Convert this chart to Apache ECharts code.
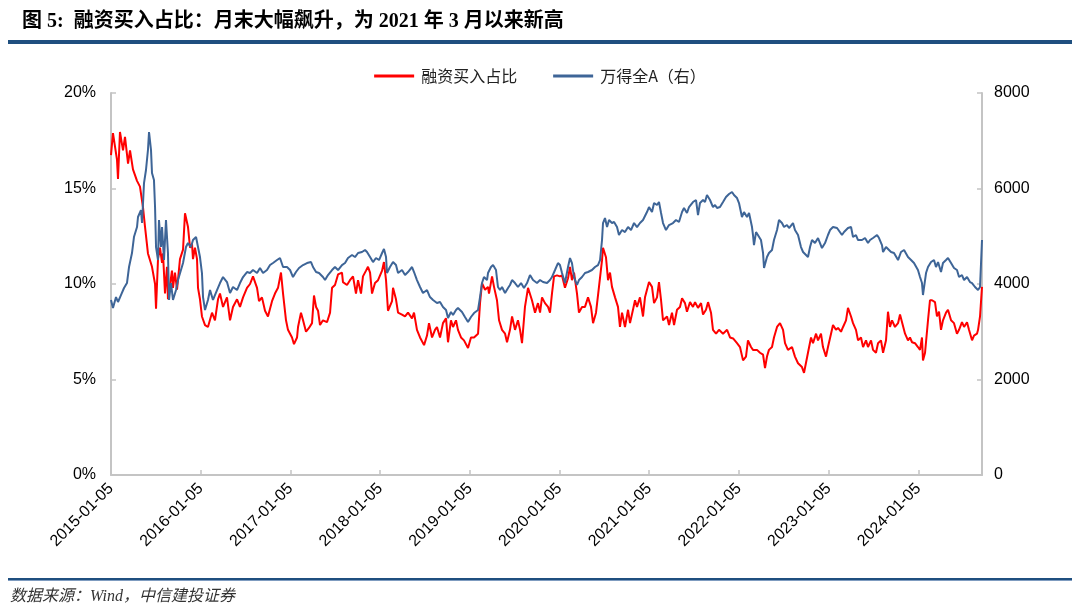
<!DOCTYPE html>
<html>
<head>
<meta charset="utf-8">
<script src="https://cdn.jsdelivr.net/npm/echarts@6/dist/echarts.min.js"></script>
<style>
html,body{margin:0;padding:0;background:#fff;}
#chart{width:1080px;height:613px;}
</style>
</head>
<body>
<div id="chart"></div>
<script>
// x values are decimal years (trading-calendar position)
const redX = [2015.000,2015.022,2015.067,2015.078,2015.100,2015.134,2015.156,2015.190,2015.212,2015.245,2015.290,2015.323,2015.357,2015.379,2015.412,2015.457,2015.491,2015.502,2015.524,2015.546,2015.569,2015.580,2015.602,2015.624,2015.635,2015.680,2015.691,2015.713,2015.736,2015.769,2015.803,2015.825,2015.858,2015.881,2015.903,2015.914,2015.936,2015.959,2015.970,2015.992,
2016.014,2016.048,2016.081,2016.126,2016.159,2016.193,2016.215,2016.249,2016.293,2016.327,2016.360,2016.405,2016.438,2016.472,2016.516,2016.550,2016.583,2016.628,2016.650,2016.683,2016.717,2016.750,2016.795,2016.828,2016.862,2016.895,2016.918,2016.951,2016.973,
2017.018,2017.040,2017.074,2017.085,2017.118,2017.141,2017.174,2017.207,2017.241,2017.263,2017.286,2017.308,2017.330,2017.363,2017.408,2017.442,2017.464,2017.497,2017.531,2017.575,2017.586,2017.631,2017.664,2017.698,2017.731,2017.754,2017.787,2017.809,2017.843,2017.865,2017.888,2017.910,2017.943,2017.977,
2018.022,2018.043,2018.066,2018.088,2018.133,2018.144,2018.177,2018.200,2018.244,2018.278,2018.311,2018.356,2018.378,2018.411,2018.445,2018.490,2018.523,2018.545,2018.579,2018.612,2018.634,2018.668,2018.701,2018.735,2018.757,2018.790,2018.813,2018.846,2018.868,2018.902,2018.935,2018.980,
2019.013,2019.047,2019.092,2019.114,2019.136,2019.170,2019.203,2019.214,2019.248,2019.270,2019.303,2019.326,2019.359,2019.393,2019.415,2019.448,2019.471,2019.504,2019.537,2019.560,2019.582,2019.615,2019.649,2019.671,2019.693,2019.727,2019.760,2019.783,2019.805,2019.838,2019.872,2019.894,2019.916,2019.939,2019.972,
2020.005,2020.028,2020.061,2020.095,2020.117,2020.139,2020.162,2020.195,2020.217,2020.251,2020.284,2020.318,2020.351,2020.374,2020.407,2020.440,2020.474,2020.485,2020.518,2020.541,2020.563,2020.585,2020.619,2020.652,2020.674,2020.697,2020.730,2020.764,2020.786,2020.819,2020.842,2020.864,2020.897,2020.931,2020.953,2020.975,2020.998,
2021.031,2021.054,2021.087,2021.109,2021.132,2021.154,2021.199,2021.221,2021.254,2021.277,2021.310,2021.343,2021.366,2021.399,2021.421,2021.455,2021.488,2021.511,2021.544,2021.578,2021.600,2021.633,2021.656,2021.689,2021.711,2021.745,2021.778,2021.823,2021.868,2021.901,2021.935,2021.979,
2022.012,2022.046,2022.079,2022.101,2022.135,2022.157,2022.202,2022.235,2022.269,2022.291,2022.313,2022.335,2022.369,2022.391,2022.425,2022.458,2022.492,2022.514,2022.547,2022.592,2022.625,2022.659,2022.703,2022.726,2022.770,2022.804,2022.826,2022.860,2022.882,2022.915,2022.937,2022.971,2022.993,
2023.027,2023.049,2023.082,2023.105,2023.138,2023.161,2023.194,2023.216,2023.250,2023.272,2023.305,2023.328,2023.361,2023.384,2023.417,2023.439,2023.473,2023.495,2023.528,2023.551,2023.584,2023.607,2023.640,2023.662,2023.684,2023.707,2023.740,2023.774,2023.796,2023.818,2023.852,2023.885,2023.907,2023.930,2023.963,2023.996,
2024.019,2024.041,2024.052,2024.075,2024.108,2024.130,2024.153,2024.186,2024.208,2024.231,2024.253,2024.275,2024.309,2024.331,2024.365,2024.398,2024.431,2024.454,2024.487,2024.510,2024.543,2024.565,2024.599,2024.621,2024.654,2024.666,2024.688,2024.710];

const redValues = [16.75,17.9,16.5,15.5,17.96,17.0,17.7,16.3,17.0,16.0,15.4,15.1,14.0,13.0,11.6,10.9,10.0,8.7,11.3,11.9,11.1,11.6,9.5,10.9,9.2,10.7,9.8,10.6,9.7,11.3,11.8,13.7,13.0,11.9,12.1,11.3,11.9,11.3,9.8,9.2,
8.3,7.85,7.75,8.5,8.1,9.2,9.5,8.8,9.3,8.1,8.8,9.2,8.8,9.3,9.8,10.0,10.4,9.8,9.1,9.3,8.6,8.3,9.1,9.5,9.8,10.6,9.5,8.1,7.6,
7.2,6.85,7.2,7.75,8.5,8.1,7.5,7.7,7.95,9.4,8.8,8.6,7.85,8.1,8.0,8.5,9.8,9.95,10.5,10.6,10.1,9.95,10.2,10.4,9.5,10.2,9.5,10.4,10.7,10.9,10.6,9.5,10.05,10.2,
10.7,11.15,10.2,8.6,9.1,9.8,9.2,8.5,8.4,8.3,8.5,8.2,8.5,7.6,7.2,6.8,7.3,7.95,7.2,7.6,7.75,7.2,7.95,8.2,6.95,8.1,7.75,8.1,7.6,7.2,7.05,6.65,
7.2,7.2,7.4,9.0,10.05,9.7,9.85,9.5,10.4,9.85,9.15,8.1,7.6,7.4,6.95,7.6,8.3,7.6,8.1,7.6,6.9,8.8,9.8,9.85,9.15,8.5,9.0,8.5,9.3,9.0,8.8,8.5,9.5,10.4,10.45,
10.4,10.45,9.8,10.3,10.9,10.2,10.6,9.5,8.5,8.8,8.8,9.3,8.8,7.95,8.5,9.85,11.25,11.9,11.4,10.2,10.6,9.85,9.3,8.8,7.75,8.5,7.75,8.65,7.95,8.65,9.15,8.8,9.3,8.3,9.3,9.7,10.1,
9.85,9.0,9.3,10.1,9.15,8.1,8.3,7.85,8.5,7.85,8.65,8.8,9.25,9.0,8.55,9.05,8.8,9.05,8.75,9.0,8.4,8.65,9.05,8.5,7.6,7.4,7.6,7.4,7.6,7.2,7.15,6.9,
6.7,6.0,6.2,7.05,6.7,6.55,6.55,6.4,6.3,5.6,6.2,6.55,6.7,7.2,7.75,7.95,7.6,6.9,6.55,6.7,6.2,5.85,5.65,5.35,6.4,7.2,6.9,7.4,7.05,7.4,6.7,6.2,6.7,
7.4,7.85,7.6,7.7,7.5,7.75,8.1,8.75,8.3,7.95,7.6,7.05,7.2,6.7,7.05,6.7,7.05,6.55,6.4,6.9,7.05,6.4,7.05,8.55,7.75,8.1,7.75,7.95,8.4,8.5,7.4,7.05,7.2,6.95,6.9,6.7,
6.55,7.2,6.0,6.4,8.1,9.15,9.15,9.05,8.3,8.55,7.6,8.1,8.5,8.65,8.1,7.95,7.4,7.6,8.0,7.75,8.0,7.6,7.05,7.3,7.4,7.6,8.3,9.85];

const blueX = [2015.000,2015.022,2015.056,2015.078,2015.111,2015.145,2015.178,2015.201,2015.234,2015.256,2015.290,2015.301,2015.334,2015.346,2015.368,2015.390,2015.412,2015.424,2015.446,2015.457,2015.479,2015.491,2015.502,2015.524,2015.535,2015.557,2015.569,2015.591,2015.613,2015.635,2015.647,2015.669,2015.691,2015.725,2015.747,2015.780,2015.803,2015.836,2015.858,2015.892,2015.914,2015.948,2015.970,2015.992,
2016.014,2016.026,2016.048,2016.081,2016.104,2016.137,2016.182,2016.215,2016.249,2016.293,2016.327,2016.360,2016.405,2016.438,2016.472,2016.516,2016.550,2016.583,2016.628,2016.661,2016.695,2016.739,2016.773,2016.806,2016.851,2016.884,2016.918,2016.962,2016.996,
2017.029,2017.062,2017.096,2017.141,2017.185,2017.230,2017.252,2017.286,2017.319,2017.363,2017.386,2017.419,2017.464,2017.497,2017.531,2017.575,2017.609,2017.642,2017.687,2017.720,2017.754,2017.798,2017.832,2017.854,2017.888,2017.921,2017.954,2017.988,
2018.022,2018.043,2018.066,2018.077,2018.110,2018.144,2018.177,2018.200,2018.244,2018.278,2018.311,2018.356,2018.378,2018.411,2018.445,2018.478,2018.523,2018.556,2018.590,2018.634,2018.668,2018.701,2018.735,2018.757,2018.790,2018.813,2018.846,2018.868,2018.913,2018.946,2018.980,
2019.013,2019.047,2019.092,2019.114,2019.136,2019.158,2019.192,2019.203,2019.236,2019.259,2019.292,2019.314,2019.337,2019.359,2019.393,2019.426,2019.448,2019.471,2019.504,2019.537,2019.571,2019.604,2019.638,2019.671,2019.705,2019.749,2019.783,2019.816,2019.861,2019.894,2019.916,2019.950,2019.983,
2020.005,2020.028,2020.061,2020.095,2020.117,2020.139,2020.162,2020.195,2020.217,2020.251,2020.284,2020.318,2020.362,2020.396,2020.429,2020.452,2020.474,2020.485,2020.507,2020.530,2020.552,2020.585,2020.608,2020.641,2020.663,2020.697,2020.730,2020.764,2020.797,2020.831,2020.864,2020.897,2020.931,2020.975,2020.998,
2021.031,2021.054,2021.087,2021.109,2021.132,2021.154,2021.187,2021.221,2021.265,2021.299,2021.332,2021.366,2021.388,2021.421,2021.444,2021.488,2021.522,2021.544,2021.566,2021.600,2021.622,2021.644,2021.678,2021.711,2021.734,2021.756,2021.789,2021.823,2021.856,2021.890,2021.923,2021.945,2021.979,
2022.001,2022.034,2022.057,2022.090,2022.113,2022.146,2022.157,2022.168,2022.191,2022.213,2022.246,2022.269,2022.280,2022.313,2022.335,2022.369,2022.391,2022.425,2022.447,2022.480,2022.503,2022.536,2022.559,2022.603,2022.625,2022.659,2022.692,2022.715,2022.748,2022.770,2022.793,2022.815,2022.848,2022.882,2022.904,2022.926,2022.960,2022.993,
2023.016,2023.049,2023.094,2023.116,2023.149,2023.172,2023.216,2023.250,2023.272,2023.305,2023.328,2023.372,2023.406,2023.439,2023.462,2023.495,2023.540,2023.562,2023.595,2023.607,2023.640,2023.662,2023.696,2023.729,2023.774,2023.807,2023.841,2023.885,2023.919,2023.952,2023.996,
2024.019,2024.041,2024.052,2024.086,2024.108,2024.142,2024.175,2024.197,2024.220,2024.253,2024.275,2024.309,2024.331,2024.365,2024.398,2024.431,2024.454,2024.487,2024.510,2024.543,2024.576,2024.599,2024.632,2024.666,2024.688,2024.710];

const blueValues = [3665,3497,3727,3623,3769,3916,4020,4356,4649,4984,5193,5403,5549,5277,6114,6387,6806,7183,6806,6324,6177,5612,4774,4502,5340,4774,5193,4502,5340,4649,3665,4020,3665,3874,4083,4293,4439,4774,4858,4774,4921,4984,4963,4565,
4230,3727,3455,3665,3874,3665,3874,4020,4146,4041,3811,3937,3874,4020,4146,4251,4230,4293,4230,4335,4230,4293,4397,4439,4502,4544,4356,4356,4293,
4146,4251,4335,4397,4439,4460,4356,4251,4230,4146,4083,4188,4293,4356,4293,4397,4439,4544,4607,4565,4649,4670,4712,4670,4565,4460,4544,4502,
4649,4733,4565,4230,4356,4460,4397,4230,4293,4188,4251,4356,4251,4083,3937,3811,3874,3727,3665,3602,3623,3518,3455,3288,3413,3350,3455,3497,3413,3309,3204,
3309,3392,3455,3727,4020,4146,4083,4230,4356,4397,4293,3937,3874,3937,3811,3916,3979,4083,4020,3937,4020,3916,4020,4188,4083,4020,4083,4041,4020,4083,4146,4293,4439,
4397,4230,4020,4356,4544,4439,4146,3979,4083,4146,4230,4251,4293,4356,4397,4502,4921,5277,5382,5193,5340,5277,5298,5193,5026,5130,5088,5193,5130,5277,5193,5277,5340,5507,5612,
5507,5696,5654,5717,5486,5277,5130,5235,5277,5340,5298,5507,5591,5486,5612,5717,5759,5444,5696,5759,5717,5863,5759,5612,5654,5591,5612,5717,5821,5884,5926,5863,5800,
5696,5403,5507,5403,5486,5193,5026,4816,5088,5067,4921,4649,4335,4565,4649,4712,4921,5130,5340,5277,5193,5235,5172,5277,5130,5026,4774,4670,4607,4565,4774,4921,4858,4963,4984,4753,4858,5026,
5130,5193,5172,5193,5026,5088,5172,5193,4984,5026,4921,4921,4963,4858,4921,4963,5026,4963,4816,4670,4774,4753,4670,4649,4502,4670,4712,4565,4502,4439,4293,
4146,4020,3769,4230,4356,4460,4502,4356,4460,4251,4439,4502,4544,4439,4335,4293,4146,4188,4083,4146,4041,4020,3937,3874,3937,4921];

const leftTicks = [0, 5, 10, 15, 20];
const rightTicks = [0, 2000, 4000, 6000, 8000];
const xTickYears = [2015,2016,2017,2018,2019,2020,2021,2022,2023,2024];
const seriesNames = ['融资买入占比', '万得全A（右）'];
const titleText = '图 5:  融资买入占比：月末大幅飙升，为 2021 年 3 月以来新高';
const sourceText = '数据来源：Wind，中信建投证券';

const redData = redX.map((x, i) => [x, redValues[i]]);
const blueData = blueX.map((x, i) => [x, blueValues[i]]);

const chart = echarts.init(document.getElementById('chart'), null, {renderer: 'canvas'});
const axisColor = '#c4c4c4';
const labelFont = '"Liberation Sans", Arial, sans-serif';

chart.setOption({
  animation: false,
  backgroundColor: '#ffffff',
  grid: {left: 111, right: 98, top: 93, bottom: 138, containLabel: false},
  legend: {
    top: 63, left: 'center',
    itemWidth: 40, itemHeight: 3, itemGap: 36,
    icon: 'rect',
    textStyle: {fontSize: 16, color: '#222', fontFamily: '"Noto Sans CJK SC", sans-serif', padding: [0,0,0,2]},
    data: seriesNames
  },
  xAxis: {
    type: 'value',
    min: xTickYears[0], max: redX[redX.length - 1], interval: 1,
    splitLine: {show: false},
    axisLine: {lineStyle: {color: axisColor, width: 2}},
    axisTick: {inside: true, length: 5, lineStyle: {color: axisColor, width: 1.5}},
    axisLabel: {
      rotate: 45, margin: 11, fontSize: 16, color: '#000', fontFamily: labelFont,
      showMaxLabel: false,
      formatter: v => (Math.abs(v - Math.round(v)) < 1e-6 && xTickYears.includes(Math.round(v))) ? Math.round(v) + '-01-05' : ''
    }
  },
  yAxis: [
    {
      type: 'value', min: leftTicks[0], max: leftTicks[leftTicks.length-1], interval: 5,
      splitLine: {show: false},
      axisLine: {show: true, lineStyle: {color: axisColor, width: 2}},
      axisTick: {show: true, inside: true, length: 5, lineStyle: {color: axisColor, width: 1.5}},
      axisLabel: {formatter: v => v + '%', fontSize: 16, color: '#000', fontFamily: labelFont, margin: 15}
    },
    {
      type: 'value', min: rightTicks[0], max: rightTicks[rightTicks.length-1], interval: 2000, position: 'right',
      splitLine: {show: false},
      axisLine: {show: true, lineStyle: {color: axisColor, width: 2}},
      axisTick: {show: true, inside: true, length: 5, lineStyle: {color: axisColor, width: 1.5}},
      axisLabel: {formatter: v => String(v), fontSize: 16, color: '#000', fontFamily: labelFont, margin: 12}
    }
  ],
  series: [
    {name: seriesNames[0], type: 'line', data: redData, showSymbol: false, yAxisIndex: 0,
     color: '#ff0000', lineStyle: {width: 2, color: '#ff0000'}},
    {name: seriesNames[1], type: 'line', data: blueData, showSymbol: false, yAxisIndex: 1,
     color: '#3e6597', lineStyle: {width: 2, color: '#3e6597'}}
  ],
  graphic: [
    {type: 'text', left: 22, top: 12, style: {text: titleText, font: 'bold 20px "Liberation Serif", "Noto Sans CJK SC", serif', fill: '#000'}},
    {type: 'rect', shape: {x: 8, y: 40, width: 1064, height: 4}, style: {fill: '#1f4f7f'}},
    {type: 'rect', shape: {x: 8, y: 578, width: 1064, height: 2}, style: {fill: '#1f4f7f'}},
    {type: 'rect', shape: {x: 8, y: 580, width: 1064, height: 1}, style: {fill: '#7f9cc0'}},
    {type: 'text', left: 10, top: 589, style: {text: sourceText, font: 'italic 16px "Liberation Serif", "Noto Sans CJK SC", serif', fill: '#333'}}
  ]
});
</script>
</body>
</html>
